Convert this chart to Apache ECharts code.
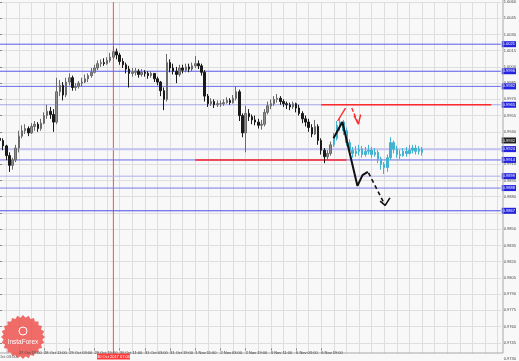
<!DOCTYPE html>
<html><head><meta charset="utf-8">
<script src="https://cdn.jsdelivr.net/npm/echarts@6/dist/echarts.min.js"></script>
<style>html,body{margin:0;padding:0;background:#f8f8f8}#c{width:519px;height:361px}</style>
</head><body><div id="c"></div>
<script>
// ---- data (prices) ----
// historical 2h candles [open, close, low, high], category index 0..105
const histOHLC = [
[0.9934,0.9932,0.9927,0.9938],[0.9932,0.9927,0.9923,0.9934],[0.9927,0.9918,0.9914,0.9928],[0.9918,0.9909,0.9903,0.9921],
[0.9909,0.9914,0.9905,0.9916],[0.9914,0.9925,0.9912,0.9928],[0.9925,0.9936,0.9921,0.9941],[0.9936,0.9941,0.9934,0.9946],
[0.9941,0.9943,0.9938,0.9947],[0.9943,0.9939,0.9936,0.9945],[0.9939,0.9945,0.9938,0.9948],[0.9945,0.9947,0.9941,0.9950],
[0.9947,0.9943,0.9940,0.9949],[0.9943,0.9948,0.9941,0.9952],[0.9948,0.9955,0.9947,0.9958],[0.9955,0.9959,0.9952,0.9965],
[0.9959,0.9956,0.9952,0.9963],[0.9956,0.9949,0.9940,0.9961],[0.9949,0.9977,0.9947,0.9990],[0.9977,0.9983,0.9973,0.9988],
[0.9983,0.9974,0.9969,0.9986],[0.9974,0.9986,0.9972,0.9990],[0.9986,0.9990,0.9983,0.9994],[0.9990,0.9981,0.9978,0.9992],
[0.9981,0.9982,0.9978,0.9985],[0.9982,0.9985,0.9980,0.9987],[0.9985,0.9986,0.9982,0.9990],[0.9986,0.9989,0.9985,0.9993],
[0.9989,0.9992,0.9986,0.9994],[0.9992,0.9995,0.9990,0.9999],[0.9995,0.9999,0.9994,1.0002],[0.9999,1.0003,0.9997,1.0006],
[1.0003,1.0004,1.0000,1.0007],[1.0004,1.0003,1.0001,1.0008],[1.0003,1.0006,1.0002,1.0009],[1.0006,1.0009,1.0004,1.0013],
[1.0009,1.0014,1.0007,1.0019],[1.0014,1.0011,1.0007,1.0017],[1.0011,1.0005,1.0002,1.0013],[1.0005,1.0002,0.9999,1.0008],
[1.0002,0.9998,0.9994,1.0004],[0.9998,0.9994,0.9981,1.0001],[0.9994,0.9995,0.9991,0.9999],[0.9995,0.9996,0.9992,0.9999],
[0.9996,0.9993,0.9990,0.9998],[0.9993,0.9995,0.9991,0.9998],[0.9995,0.9994,0.9991,0.9997],[0.9994,0.9992,0.9989,0.9996],
[0.9992,0.9994,0.9990,0.9996],[0.9994,0.9989,0.9986,0.9994],[0.9989,0.9986,0.9983,0.9991],[0.9986,0.9978,0.9973,0.9987],
[0.9978,0.9970,0.9960,0.9981],[0.9970,1.0004,0.9968,1.0012],[1.0004,0.9999,0.9995,1.0007],[0.9999,0.9996,0.9993,1.0003],
[0.9996,0.9993,0.9985,1.0000],[0.9993,0.9999,0.9991,1.0002],[0.9999,0.9997,0.9994,1.0002],[0.9997,1.0000,0.9995,1.0003],
[1.0000,0.9998,0.9995,1.0003],[0.9998,1.0001,0.9996,1.0004],[1.0001,1.0003,0.9999,1.0010],[1.0003,1.0001,0.9998,1.0006],
[1.0001,0.9995,0.9992,1.0003],[0.9995,0.9973,0.9968,0.9997],[0.9973,0.9966,0.9963,0.9975],[0.9966,0.9968,0.9964,0.9971],
[0.9968,0.9965,0.9962,0.9970],[0.9965,0.9966,0.9963,0.9969],[0.9966,0.9966,0.9963,0.9969],[0.9966,0.9967,0.9964,0.9970],
[0.9967,0.9969,0.9966,0.9972],[0.9969,0.9967,0.9965,0.9971],[0.9967,0.9971,0.9966,0.9974],[0.9971,0.9977,0.9969,0.9982],
[0.9977,0.9955,0.9950,0.9979],[0.9955,0.9939,0.9935,0.9957],[0.9939,0.9957,0.9921,0.9964],[0.9957,0.9954,0.9950,0.9961],
[0.9954,0.9951,0.9947,0.9956],[0.9951,0.9949,0.9946,0.9955],[0.9949,0.9946,0.9943,0.9952],[0.9946,0.9947,0.9942,0.9951],
[0.9947,0.9958,0.9945,0.9961],[0.9958,0.9964,0.9956,0.9968],[0.9964,0.9966,0.9961,0.9970],[0.9966,0.9970,0.9964,0.9973],
[0.9970,0.9971,0.9967,0.9975],[0.9971,0.9968,0.9965,0.9973],[0.9968,0.9966,0.9963,0.9970],[0.9966,0.9965,0.9961,0.9968],
[0.9965,0.9963,0.9960,0.9967],[0.9963,0.9966,0.9961,0.9968],[0.9966,0.9962,0.9958,0.9967],[0.9962,0.9957,0.9955,0.9965],
[0.9957,0.9952,0.9948,0.9959],[0.9952,0.9949,0.9945,0.9955],[0.9949,0.9944,0.9940,0.9952],[0.9944,0.9938,0.9935,0.9947],
[0.9938,0.9945,0.9937,0.9951],[0.9945,0.9932,0.9928,0.9947],[0.9932,0.9923,0.9919,0.9934],[0.9923,0.9917,0.9911,0.9925],
[0.9917,0.9920,0.9914,0.9923],[0.9920,0.9928,0.9918,0.9931]
];
// forecast candles (cyan) [open, close, low, high], starting at category 106
const forecastOHLC = [
[0.9928,0.9934,0.9926,0.9939],[0.9934,0.9946,0.9932,0.9950],[0.9946,0.9949,0.9941,0.9953],[0.9949,0.9941,0.9937,0.9951],
[0.9941,0.9930,0.9927,0.9944],[0.9930,0.9923,0.9919,0.9933],[0.9923,0.9920,0.9916,0.9926],[0.9920,0.9922,0.9917,0.9927],
[0.9922,0.9924,0.9918,0.9928],[0.9924,0.9919,0.9916,0.9927],[0.9919,0.9922,0.9917,0.9926],[0.9922,0.9923,0.9919,0.9928],
[0.9923,0.9919,0.9916,0.9926],[0.9919,0.9921,0.9917,0.9925],[0.9921,0.9915,0.9911,0.9923],[0.9915,0.9910,0.9905,0.9917],
[0.9910,0.9907,0.9901,0.9912],[0.9907,0.9916,0.9903,0.9919],[0.9916,0.9930,0.9914,0.9935],[0.9930,0.9924,0.9920,0.9932],
[0.9924,0.9919,0.9916,0.9927],[0.9919,0.9918,0.9915,0.9923],[0.9918,0.9922,0.9917,0.9925],[0.9922,0.9920,0.9917,0.9926],
[0.9920,0.9923,0.9919,0.9928],[0.9923,0.9925,0.9920,0.9928],[0.9925,0.9922,0.9919,0.9928],[0.9922,0.9924,0.9919,0.9927],
[0.9924,0.9921,0.9918,0.9926]
];
const forecastStart = 106;
const categoryCount = 160;
// x tick labels, every 8 categories starting at index 6
const tickLabels = ["27 Oct 19:00","28 Oct 11:00","29 Oct 03:00","29 Oct 19:00","30 Oct 11:00","31 Oct 03:00",
  "31 Oct 19:00","1 Nov 11:00","2 Nov 03:00","2 Nov 19:00","3 Nov 11:00","6 Nov 03:00","6 Nov 19:00"];
const firstCutLabel = "27 Oct 03:00";
const crosshairLabel = "30 Oct 2017 07:00";
const crosshairIndex = 36;
// horizontal levels
const blueLevels = [1.0021, 0.9996, 0.9982, 0.9965, 0.9924, 0.9914, 0.9899, 0.9888, 0.9867];
const currentPrice = 0.9932;
const redUpperLevel = {price: 0.9965, from: 102, to: 156};
const redLowerLevel = {price: 0.9914, from: 62, to: 110};
// hand-drawn arrows [categoryIndex, price]
const blackPath = [[105.9,0.9934],[108.7,0.9949],[113.5,0.9890],[115.1,0.9900],[116.8,0.9903]];
const blackDash = [[117.0,0.9902],[122.3,0.9872]];
const blackHead = [[120.7,0.9876],[122.3,0.9872],[123.8,0.9879]];
const redUp = [[107.2,0.9950],[109.7,0.9962]];
const redDash = [[111.7,0.9962],[113.8,0.9947]];
const redHead = [[112.4,0.9955],[113.8,0.9947],[114.5,0.9956]];

// ---- styles ----
const levelColors = ['#5a5ae8','#5a5ae8','#6a6ae8','#a4a4ea','#c4c4f2','#6a6ae8','#b0b0e8','#7a7aea','#4a4ae6'];
const levelWidths = [1,1,1,1,2,1,1,1,1];
const FONT = 'Liberation Sans';
const cats = Array.from({length: categoryCount}, (_, i) => String(i));
const histData = histOHLC.map((d, i) => [i].concat(d));
const fcData = forecastOHLC.map((d, i) => [forecastStart + i].concat(d));
const Y_MIN = 0.9730, Y_MAX = 1.0060, X_LAST = categoryCount - 1;

const seg = (data, color, width, type, z, endLbl) => {
  const s = {type:'line', xAxisIndex:2, yAxisIndex:0, data, symbol:'none', silent:true, animation:false, z: z || 5,
    lineStyle:{color, width, type: type || 'solid'}};
  if (endLbl) s.endLabel = {show:true, distance:1, formatter: endLbl.text, backgroundColor: endLbl.bg, color:'#fff',
    fontSize:4, fontFamily:FONT, padding:[1,1,0,1], lineHeight:5};
  return s;
};

const levelSeries = blueLevels.map((v, k) => seg([[0, v], [X_LAST, v]], levelColors[k], levelWidths[k], 'solid', 3,
  {text: v.toFixed(4), bg:'#2424e0'}));
const currentSeries = seg([[0, currentPrice], [X_LAST, currentPrice]], 'rgba(0,0,0,0)', 1, 'solid', 3,
  {text: currentPrice.toFixed(4), bg:'#202020'});
const redSeries = [
  seg([[redUpperLevel.from, redUpperLevel.price], [redUpperLevel.to, redUpperLevel.price]], '#ff2a2a', 1.6, 'solid', 4),
  seg([[redLowerLevel.from, redLowerLevel.price], [redLowerLevel.to, redLowerLevel.price]], '#ff2a2a', 1.6, 'solid', 4)
];
const crossSeries = seg([[crosshairIndex, Y_MIN], [crosshairIndex, Y_MAX]], '#ff4a4a', 1, 'solid', 3);

// logo (decorative seal)
const sealPts = [];
for (let k = 0; k < 48; k++) { const a = k * Math.PI / 24; const r = (k % 2 === 0) ? 22 : 19.5; sealPts.push([r*Math.cos(a), r*Math.sin(a)]); }

const chart = echarts.init(document.getElementById('c'), null, {renderer:'canvas'});
chart.setOption({
  animation:false,
  backgroundColor:'#f8f8f8',
  textStyle:{fontFamily:FONT},
  tooltip:{show:false},
  axisPointer:{show:false},
  grid:{left:0, right:16, top:-1.6, height:365.2, containLabel:false},
  xAxis:[
    {type:'category', data:cats, boundaryGap:false, axisLine:{show:false}, axisTick:{show:false}, axisLabel:{show:false},
     axisPointer:{show:false},
     splitLine:{show:true, interval:(i)=> i % 4 === 2, lineStyle:{color:'#dedede', width:1}}},
    {type:'category', data:cats, boundaryGap:false, position:'bottom', offset:-10.6, z:10,
     axisLine:{show:false}, splitLine:{show:false}, axisPointer:{show:false},
     axisTick:{show:true, length:2, interval:(i)=> i % 8 === 6 && i <= 102, lineStyle:{color:'#888'}},
     axisLabel:{show:true, margin:2, fontSize:4, color:'#444', align:'left', fontFamily:FONT,
       interval:(i)=> i % 8 === 6 && i <= 102, formatter:(v, i)=> tickLabels[(i - 6) / 8] || ''}},
    {type:'value', min:0, max:X_LAST, show:false, axisPointer:{show:false}}
  ],
  yAxis:[{type:'value', position:'right', min:Y_MIN, max:Y_MAX, interval:0.0015, axisPointer:{show:false},
    axisLine:{show:false}, axisTick:{show:true, length:2, lineStyle:{color:'#888'}},
    axisLabel:{fontSize:4, color:'#444', margin:3, fontFamily:FONT, formatter:(v)=> v.toFixed(4)},
    splitLine:{show:true, lineStyle:{color:'#dedede', width:1}}}],
  series:[
    crossSeries,
    ...levelSeries,
    currentSeries,
    ...redSeries,
    {type:'candlestick', xAxisIndex:0, yAxisIndex:0, data:histData, encode:{x:0, y:[1,2,3,4]}, barWidth:2, z:4,
     itemStyle:{color:'#8c8c8c', color0:'#1a1a1a', borderColor:'#6a6a6a', borderColor0:'#1a1a1a', borderWidth:1}},
    {type:'candlestick', xAxisIndex:0, yAxisIndex:0, data:fcData, encode:{x:0, y:[1,2,3,4]}, barWidth:2, z:4,
     itemStyle:{color:'#3fb3d0', color0:'#3fb3d0', borderColor:'#3fb3d0', borderColor0:'#3fb3d0', borderWidth:1}},
    seg(blackPath, '#111', 2, 'solid'),
    seg(blackDash, '#111', 1.6, [4,3]),
    seg(blackHead, '#111', 1.6, 'solid'),
    seg(redUp, '#ff2a2a', 1.4, 'solid'),
    seg(redDash, '#ff2a2a', 1.4, [4,2]),
    seg(redHead, '#ff2a2a', 1.4, 'solid')
  ],
  graphic:{elements:[
    {type:'rect', z:5, shape:{x:0, y:353.5, width:503, height:12}, style:{fill:'#f8f8f8'}, silent:true},
    {type:'line', z:6, shape:{x1:503, y1:0, x2:503, y2:353}, style:{stroke:'#a8a8a8', lineWidth:1}, silent:true},
    {type:'line', z:6, shape:{x1:0, y1:353, x2:503, y2:353}, style:{stroke:'#a8a8a8', lineWidth:1}, silent:true},
    {type:'group', x:23, y:337, z:7, children:[
      {type:'polygon', shape:{points:sealPts}, style:{fill:'rgba(238,88,84,0.88)'}, z:7},
      {type:'circle', shape:{cx:0, cy:-6, r:4}, style:{fill:'none', stroke:'#fff', lineWidth:1}, z:8},
      {type:'text', style:{text:'InstaForex', x:0, y:5, fill:'#fff', fontSize:6.5, fontFamily:FONT, align:'center', verticalAlign:'middle'}, z:8}
    ]},
    {type:'text', z:9, style:{text:firstCutLabel, x:-6.3, y:355, fill:'#444', fontSize:4, fontFamily:FONT, align:'left', verticalAlign:'top'}},
    {type:'rect', z:11, shape:{x:97, y:353.5, width:33, height:6}, style:{fill:'#ff3a3a'}},
    {type:'text', z:12, style:{text:crosshairLabel, x:113.5, y:356.6, fill:'#fff', fontSize:4, fontFamily:FONT, align:'center', verticalAlign:'middle'}}
  ]}
});
</script></body></html>
